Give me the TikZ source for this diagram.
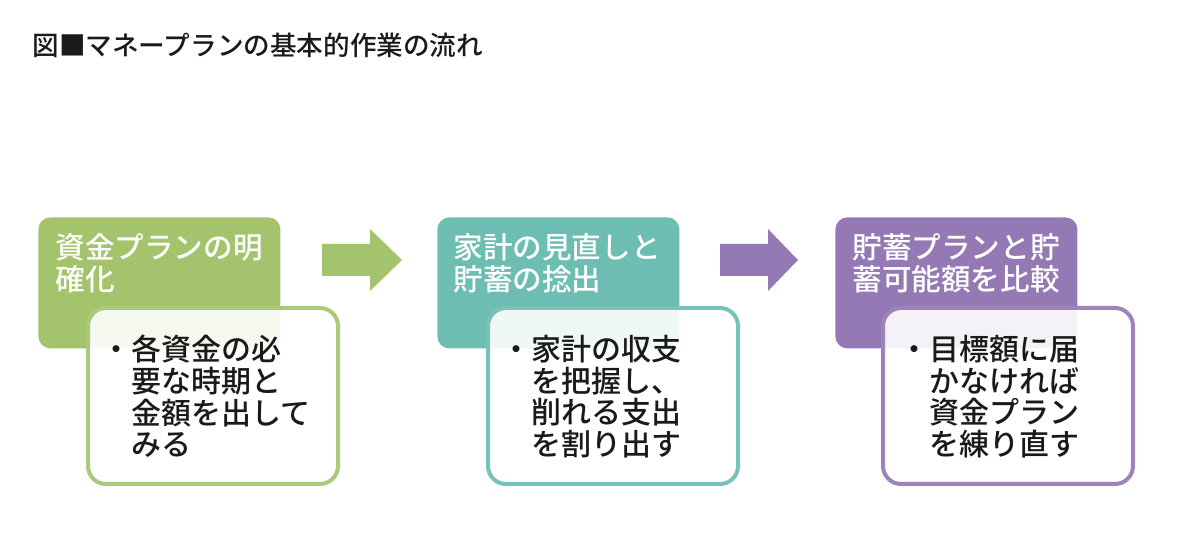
\documentclass[tikz,border=0pt]{standalone}
\usepackage{fontspec}
\setmainfont{Noto Sans CJK JP}[UprightFont=* Medium]
\definecolor{cgreen}{HTML}{A3C46C}
\definecolor{cteal}{HTML}{6DBDB3}
\definecolor{cpurple}{HTML}{9479B5}
\definecolor{bgreen}{HTML}{ABC97A}
\definecolor{bteal}{HTML}{78C2B8}
\definecolor{bpurple}{HTML}{9C84BB}
\definecolor{ink}{HTML}{1A1A1A}
\begin{document}
\begin{tikzpicture}[x=0.5pt,y=-0.5pt,
  hdrbox/.style={fill=#1, draw=none, rounded corners=6pt, inner sep=0,
    minimum width=121pt, minimum height=65.5pt, anchor=north west},
  bodybox/.style={draw=#1, line width=2pt, fill=white, fill opacity=0.9,
    rounded corners=9pt, inner sep=0, minimum width=125pt, minimum height=88pt,
    anchor=north west},
  hdrtext/.style={text=white, font=\fontsize{14.8pt}{16pt}\selectfont,
    align=left, inner sep=0, anchor=north west},
  bodytext/.style={text=ink, font=\fontsize{15pt}{15.8pt}\selectfont,
    align=left, inner sep=0, anchor=north west},
  blockarrow/.style={fill=#1, draw=none}
]
\useasboundingbox (0,0) rectangle (1200,539);

\node[anchor=west, inner sep=0, text=ink, font=\fontsize{13.3pt}{16pt}\selectfont]
  (title) at (32,45) {図■マネープランの基本的作業の流れ};

% step 1
\node[hdrbox=cgreen] (h1) at (38,217) {};
\node[bodybox=bgreen] (b1) at (86,306) {};
\node[hdrtext] (h1t) at (55,233) {資金プランの明\\確化};
\node[bodytext] (b1t) at (101,335) {・各資金の必\\\hspace*{1em}要な時期と\\\hspace*{1em}金額を出して\\\hspace*{1em}みる};

% step 2
\node[hdrbox=cteal] (h2) at (437,217) {};
\node[bodybox=bteal] (b2) at (486,306) {};
\node[hdrtext] (h2t) at (453,233) {家計の見直しと\\貯蓄の捻出};
\node[bodytext] (b2t) at (501,335) {・家計の収支\\\hspace*{1em}を把握し、\\\hspace*{1em}削れる支出\\\hspace*{1em}を割り出す};

% step 3
\node[hdrbox=cpurple] (h3) at (835,217) {};
\node[bodybox=bpurple] (b3) at (881,306) {};
\node[hdrtext] (h3t) at (852,233) {貯蓄プランと貯\\蓄可能額を比較};
\node[bodytext] (b3t) at (899,335) {・目標額に届\\\hspace*{1em}かなければ\\\hspace*{1em}資金プラン\\\hspace*{1em}を練り直す};

% block arrows
\coordinate (a1) at (322,260);
\coordinate (a2) at (720,260);
\fill[blockarrow=cgreen] (a1) ++(0,-16) -- ++(48,0) -- ++(0,-15) -- ++(32,31)
  -- ++(-32,31) -- ++(0,-15) -- ++(-48,0) -- cycle;
\fill[blockarrow=cpurple] (a2) ++(0,-16) -- ++(48,0) -- ++(0,-15) -- ++(30,31)
  -- ++(-30,31) -- ++(0,-15) -- ++(-48,0) -- cycle;
\end{tikzpicture}
\end{document}
